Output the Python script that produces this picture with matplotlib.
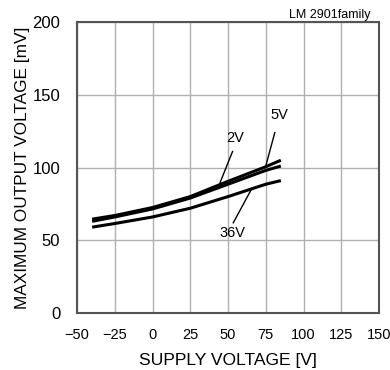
import matplotlib
matplotlib.use("Agg")
import matplotlib.pyplot as plt
import numpy as np

plt.rcParams["font.family"] = ["Liberation Sans", "DejaVu Sans"]

# curve values read per supply setting
temps = [-40, -25, 0, 25, 50, 75, 85]
v_2v = [64.5, 67, 72.5, 80, 90.5, 100.5, 105]
v_5v = [63, 66, 71.5, 79, 88.5, 98, 101]
v_36v = [59, 61.5, 66, 72, 80, 88.5, 91]

xticks = [-50, -25, 0, 25, 50, 75, 100, 125, 150]
yticks = [0, 50, 100, 150, 200]

fig = plt.figure(figsize=(3.9, 3.7), dpi=100)
ax = fig.add_axes([77 / 390, 1 - 313 / 370, 302 / 390, 291 / 370])

for vals in (v_2v, v_5v, v_36v):
    ax.plot(temps, vals, color="black", lw=2.2, solid_capstyle="butt")

ax.set_xlim(-50, 150)
ax.set_ylim(0, 200)
ax.set_xticks(xticks)
ax.set_yticks(yticks)
ax.tick_params(axis="x", length=0, labelsize=10.5, pad=11)
ax.tick_params(axis="y", length=0, labelsize=12, pad=12)
ax.grid(True, color="#b0b0b0", lw=1.0)
for s in ax.spines.values():
    s.set_color("#555555")
    s.set_linewidth(1.5)

ax.set_xlabel("SUPPLY VOLTAGE [V]", fontsize=12.6, labelpad=8)
ax.set_ylabel("MAXIMUM OUTPUT VOLTAGE [mV]", fontsize=12.4, labelpad=2)

# curve labels with leader lines
ax.text(54.6, 120, "2V", fontsize=10.5, ha="center", va="center")
ax.plot([53, 44.7], [111, 89.5], color="black", lw=1.0)
ax.text(83.8, 136, "5V", fontsize=10.5, ha="center", va="center")
ax.plot([81, 75], [124, 101], color="black", lw=1.0)
ax.text(52.8, 55, "36V", fontsize=10.5, ha="center", va="center")
ax.plot([53.5, 66], [62, 86], color="black", lw=1.0)

fig.text(330 / 390, 1 - 15 / 370, "LM 2901family", fontsize=9, ha="center", va="center")

fig.savefig("out.png", dpi=100)
